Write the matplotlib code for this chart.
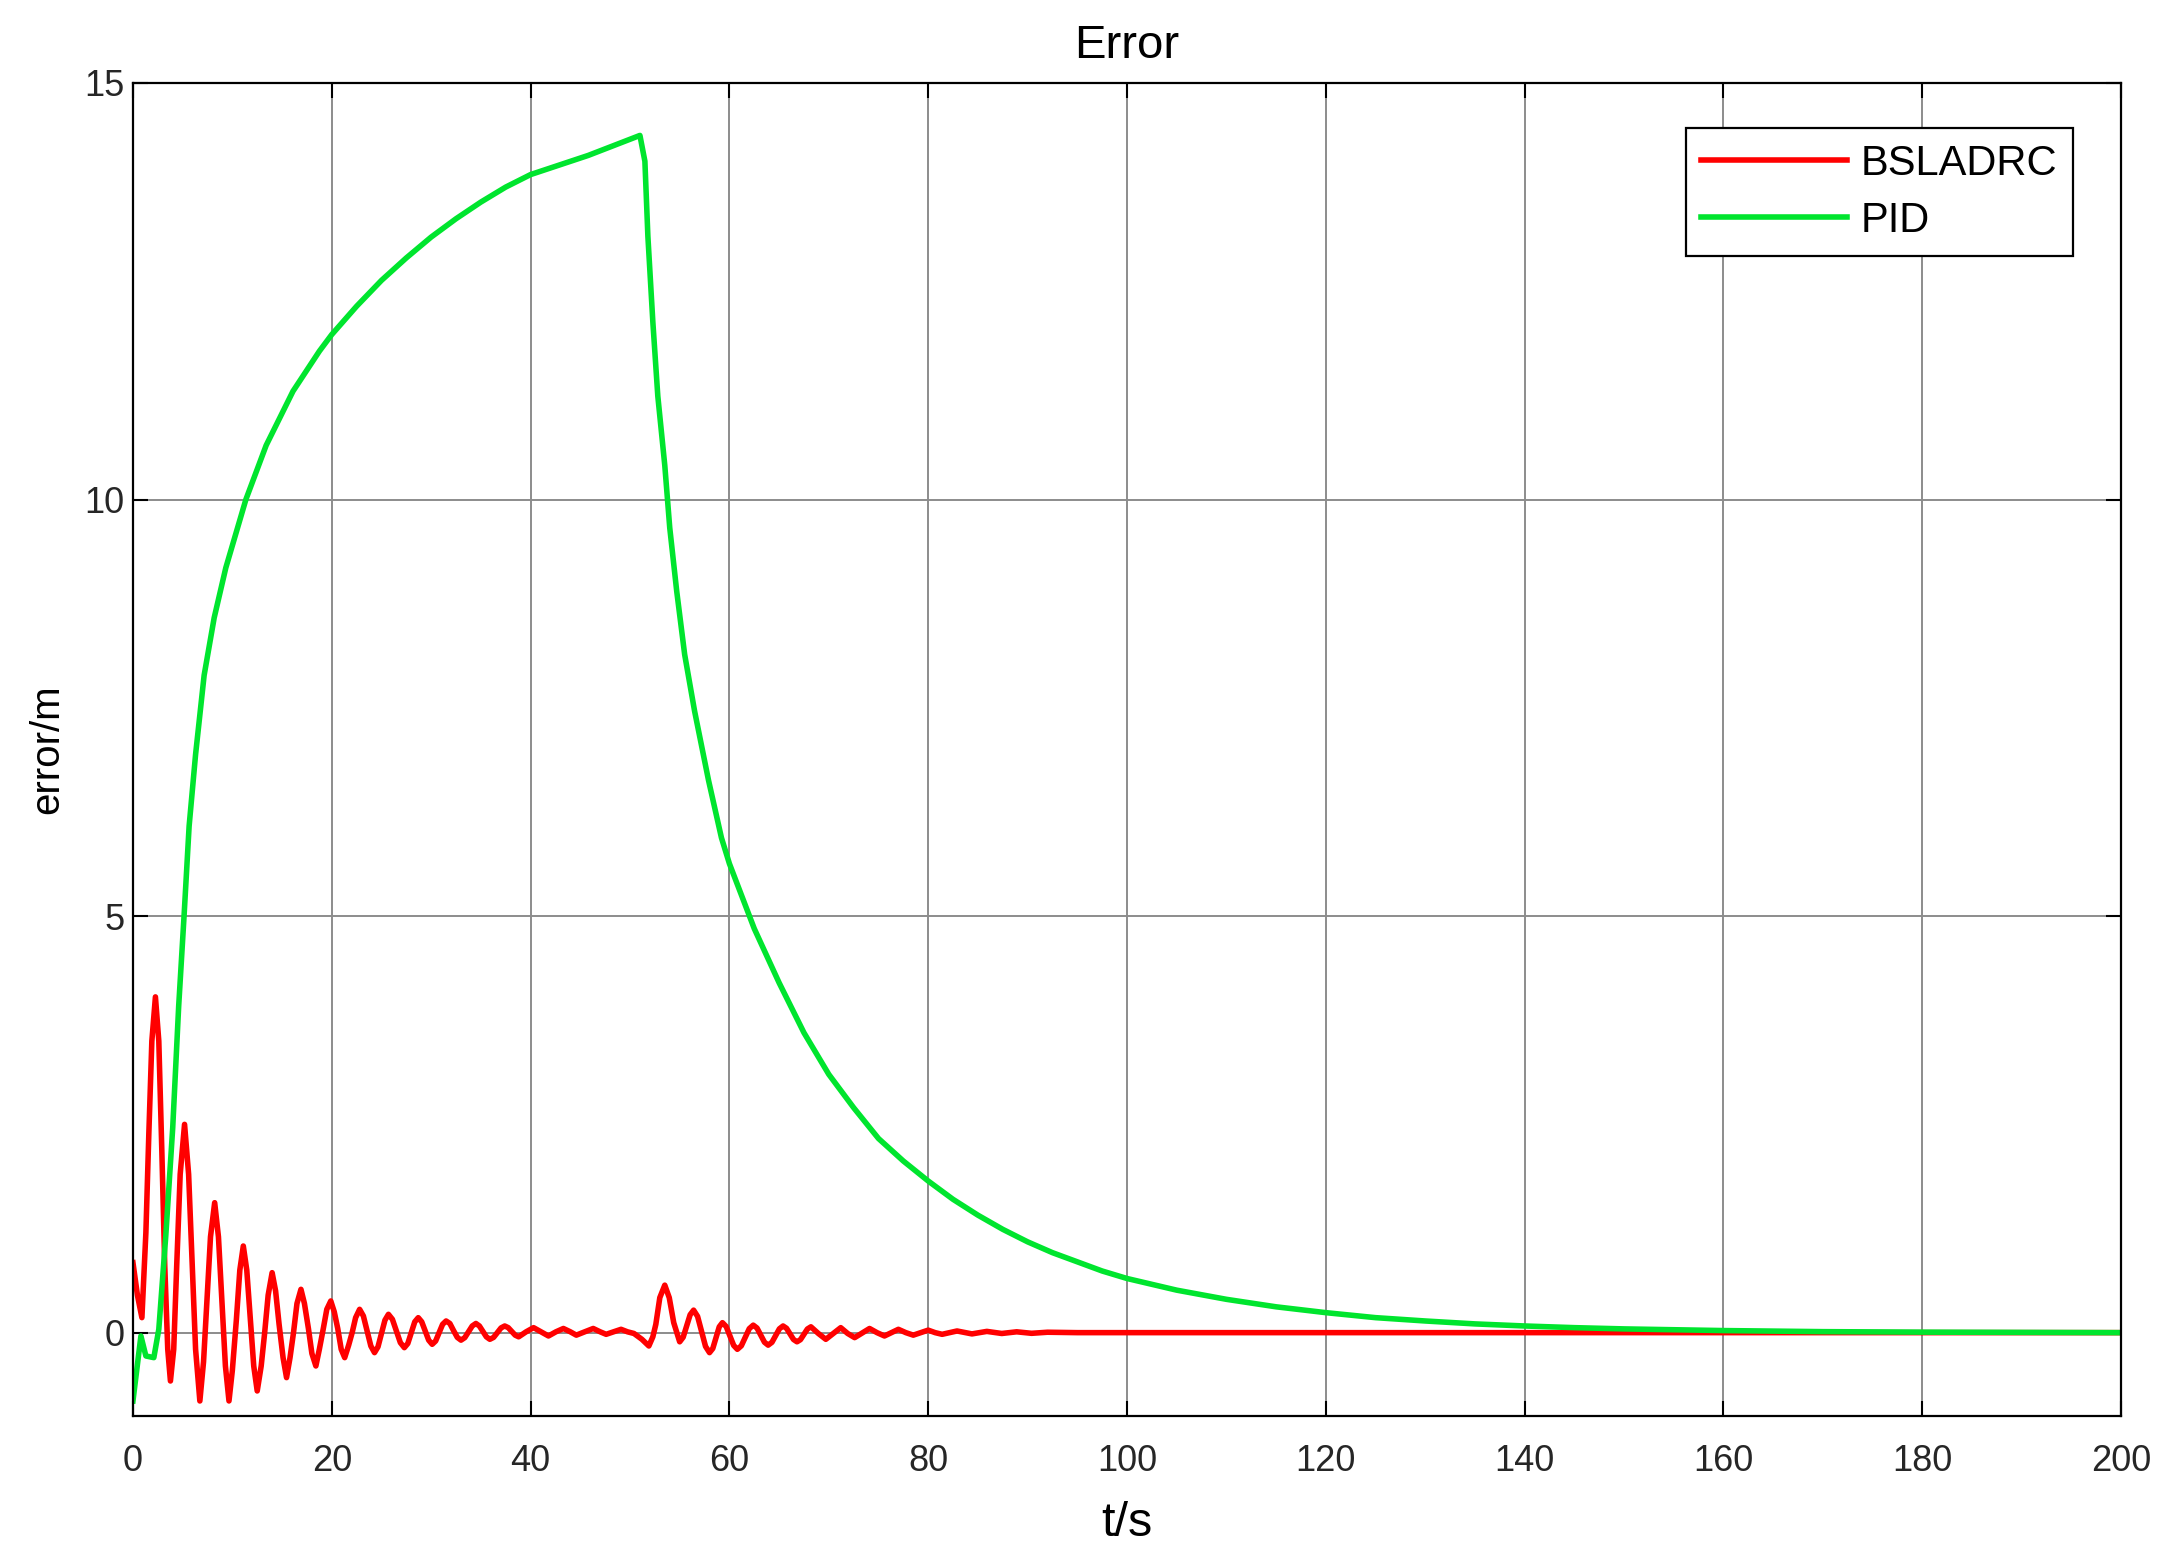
import matplotlib
matplotlib.use("Agg")
import matplotlib.pyplot as plt

# ---- data ----
# BSLADRC error (red), t in s, error in m
t_bsladrc = [0.0, 0.45, 0.9, 1.3, 1.6, 1.9, 2.26, 2.6, 2.9, 3.2, 3.5, 3.77, 4.1, 4.4, 4.75,
             5.19, 5.6, 5.95, 6.3, 6.73, 7.1, 7.45, 7.8, 8.22, 8.6, 8.95, 9.3, 9.66, 10.0,
             10.4, 10.75, 11.1, 11.45, 11.8, 12.15, 12.5, 12.9, 13.25, 13.6, 14.0, 14.35,
             14.7, 15.1, 15.45, 15.8, 16.15, 16.5, 16.9, 17.25, 17.65, 18.0, 18.4, 18.75,
             19.15, 19.5, 19.9, 20.25, 20.6, 20.95, 21.3, 21.7, 22.05, 22.4, 22.8,
             23.18, 23.55, 23.93, 24.3, 24.65, 25.0, 25.35, 25.7, 26.1, 26.5, 26.9, 27.3,
             27.65, 28.0, 28.35, 28.7, 29.05, 29.4, 29.75, 30.1, 30.45, 30.8, 31.15, 31.5,
             31.88, 32.25, 32.63, 33.0, 33.38, 33.75, 34.13, 34.5, 34.85, 35.2, 35.55, 35.9,
             36.28, 36.65, 37.03, 37.4, 37.75, 38.1, 38.45, 38.8, 39.55, 40.3, 41.05, 41.8,
             42.55, 43.3, 44.0, 44.6, 45.45, 46.3, 47.0, 47.6, 48.35, 49.1, 49.75, 50.4, 51.2,
             51.9, 52.3, 52.6, 53.0, 53.5, 53.95, 54.4, 55.0, 55.35, 55.7, 56.05, 56.4, 56.8,
             57.2, 57.6, 58.0, 58.33, 58.65, 58.98, 59.3, 59.68, 60.05, 60.43, 60.8, 61.2,
             61.6, 62.0, 62.4, 62.78, 63.15, 63.53, 63.9, 64.28, 64.65, 65.03, 65.4, 65.75,
             66.1, 66.45, 66.8, 67.15, 67.5, 67.85, 68.2, 68.95, 69.7, 70.45, 71.2, 71.9, 72.6,
             73.35, 74.1, 74.85, 75.6, 76.3, 77.0, 77.75, 78.5, 79.25, 80.0, 80.7, 81.4, 82.9,
             84.4, 85.9, 87.4, 88.9, 90.4, 92.0, 95.0, 200.0]
e_bsladrc = [0.84, 0.45, 0.18, 1.2, 2.4, 3.5, 4.03, 3.5, 2.2, 0.8, -0.2, -0.58, -0.2, 0.8, 1.9,
             2.5, 1.9, 0.85, -0.2, -0.82, -0.35, 0.4, 1.15, 1.56, 1.15, 0.37, -0.4, -0.82, -0.45,
             0.15, 0.75, 1.04, 0.75, 0.17, -0.4, -0.7, -0.4, 0.0, 0.45, 0.72, 0.5,
             0.1, -0.3, -0.54, -0.3, 0.0, 0.35, 0.52, 0.35, 0.05, -0.25, -0.4, -0.2,
             0.05, 0.28, 0.38, 0.25, 0.05, -0.2, -0.3, -0.15, 0.0, 0.18, 0.28,
             0.2, 0.02, -0.16, -0.24, -0.17, -0.01, 0.15, 0.22, 0.16, 0.02, -0.12, -0.18,
             -0.13, 0.0, 0.13, 0.18, 0.13, 0.02, -0.09, -0.14, -0.1, 0.0, 0.1, 0.14,
             0.11, 0.025, -0.057, -0.09, -0.06, 0.01, 0.08, 0.11, 0.08, 0.015, -0.05, -0.08,
             -0.057, 0.0, 0.057, 0.08, 0.06, 0.015, -0.03, -0.05, 0.01, 0.06, 0.01, -0.04,
             0.01, 0.05, 0.01, -0.03, 0.01, 0.05, 0.01, -0.02, 0.01, 0.04, 0.01, -0.01, -0.08,
             -0.16, -0.05, 0.1, 0.42, 0.57, 0.42, 0.12, -0.11, -0.055, 0.08, 0.215, 0.27, 0.195,
             0.015, -0.165, -0.24, -0.19, -0.06, 0.07, 0.12, 0.073, -0.04, -0.153, -0.2, -0.158,
             -0.055, 0.048, 0.09, 0.055, -0.03, -0.115, -0.15, -0.116, -0.035, 0.046, 0.08, 0.052,
             -0.015, -0.082, -0.11, -0.084, -0.02, 0.044, 0.07, -0.01, -0.08, -0.01, 0.06, -0.01, -0.06,
             -0.005, 0.05, 0.0, -0.04, 0.0, 0.04, 0.0, -0.03, 0.0, 0.03, 0.0, -0.02, 0.02,
             -0.015, 0.015, -0.01, 0.01, -0.008, 0.005, 0.0, 0.0]

# PID error (green)
t_pid = [0.0, 0.8, 1.3, 2.1, 2.6, 3.3, 4.0, 4.6, 5.14, 5.65, 6.3, 7.16, 8.17, 9.34, 11.36,
         13.4, 16.1, 18.75, 20.0, 22.5, 25.0, 27.5, 30.0, 32.5, 35.0, 37.5, 40.0, 45.8,
         51.0, 51.5, 51.8, 52.3, 52.8, 53.5, 54.0, 54.7, 55.5, 56.5, 57.9, 59.2, 60.0,
         62.5, 65.0, 67.5, 70.0, 72.5, 75.0, 77.5, 80.0, 82.5, 85.0, 87.5, 90.0, 92.5,
         95.0, 97.5, 100.0, 105.0, 110.0, 115.0, 120.0, 125.0, 130.0, 135.0, 140.0,
         145.0, 150.0, 160.0, 170.0, 180.0, 200.0]
e_pid = [-0.82, -0.04, -0.28, -0.3, 0.04, 1.16, 2.46, 3.92, 5.0, 6.08, 6.94, 7.89, 8.58, 9.18, 10.0,
         10.65, 11.3, 11.78, 11.98, 12.32, 12.63, 12.9, 13.15, 13.37, 13.57, 13.75, 13.9, 14.13,
         14.37, 14.06, 13.16, 12.13, 11.24, 10.41, 9.66, 8.9, 8.14, 7.46, 6.63, 5.94, 5.63,
         4.85, 4.2, 3.6, 3.1, 2.7, 2.33, 2.06, 1.82, 1.6, 1.41, 1.24, 1.09, 0.96,
         0.85, 0.74, 0.65, 0.51, 0.4, 0.31, 0.24, 0.18, 0.14, 0.105, 0.08,
         0.06, 0.045, 0.025, 0.012, 0.006, 0.0]

x_ticks = [0, 20, 40, 60, 80, 100, 120, 140, 160, 180, 200]
y_ticks = [0, 5, 10, 15]

plt.rcParams['font.family'] = ['Liberation Sans', 'DejaVu Sans']

fig = plt.figure(figsize=(21.69, 15.56), dpi=100)
ax = fig.add_axes([0.0613, 0.09, 0.9779 - 0.0613, 0.9467 - 0.09])

ax.plot(t_bsladrc, e_bsladrc, color='#ff0000', lw=4.0, label='BSLADRC')
ax.plot(t_pid, e_pid, color='#00e52e', lw=4.0, label='PID')

ax.set_xlim(0, 200)
ax.set_ylim(-1, 15)
ax.set_xticks(x_ticks)
ax.set_yticks(y_ticks)

# matlab-like grid and box
ax.grid(True, color='#8c8c8c', lw=1.4)
ax.set_axisbelow(True)
for s in ax.spines.values():
    s.set_linewidth(1.6)
    s.set_color('black')
ax.tick_params(direction='in', length=11, width=1.5, top=True, right=True,
               labelsize=26, labelcolor='#262626')
ax.tick_params(axis='x', pad=20)
ax.tick_params(axis='y', pad=6)

ax.set_title('Error', fontsize=34, pad=18)
ax.set_xlabel('t/s', fontsize=35, labelpad=16)
ax.set_ylabel('error/m', fontsize=29, labelpad=13)

leg = ax.legend(loc='upper right', bbox_to_anchor=(2073 / 2169, 1 - 128 / 1556),
                bbox_transform=fig.transFigure, borderaxespad=0, fontsize=30,
                handlelength=3.5, handletextpad=0.32, labelspacing=0.4,
                borderpad=0.38, fancybox=False, framealpha=1)
leg.get_frame().set_edgecolor('black')
leg.get_frame().set_linewidth(1.6)

plt.savefig('out.png', dpi=100)
